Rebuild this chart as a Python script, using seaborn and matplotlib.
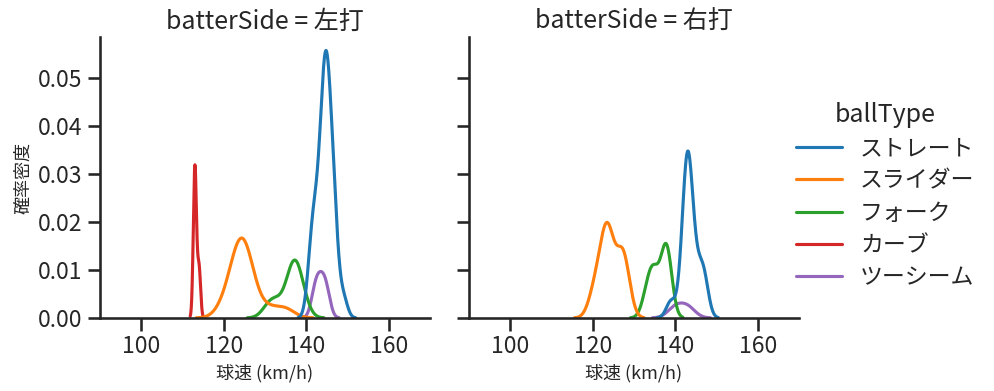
import matplotlib
matplotlib.use('Agg')
import matplotlib.pyplot as plt
import numpy as np
import pandas as pd
import seaborn as sns

ball_types = ['ストレート', 'スライダー', 'フォーク', 'カーブ', 'ツーシーム']
batter_sides = ['左打', '右打']

# 左打: 球速 (km/h) ごとの球数
left_straight_speed = [141, 142, 143, 144, 145, 146, 147, 149]
left_straight_count = [2, 3, 2, 6, 7, 4, 3, 1]
left_slider_speed = [120, 122, 123, 124, 125, 126, 127, 131, 135]
left_slider_count = [1, 1, 2, 3, 2, 2, 1, 1, 1]
left_fork_speed = [131, 133, 136, 137, 138, 139]
left_fork_count = [1, 1, 1, 3, 1, 1]
left_curve_speed = [113, 114]
left_curve_count = [3, 1]
left_twoseam_speed = [142, 143, 144, 145]
left_twoseam_count = [1, 1, 1, 1]

# 右打
right_straight_speed = [139, 142, 143, 144, 145, 146, 147]
right_straight_count = [1, 2, 7, 2, 1, 1, 2]
right_slider_speed = [120, 121, 122, 123, 124, 125, 127, 128]
right_slider_count = [1, 1, 1, 3, 3, 1, 3, 2]
right_fork_speed = [133, 134, 135, 137, 138]
right_fork_count = [1, 1, 2, 1, 4]
right_twoseam_speed = [140, 143]
right_twoseam_count = [1, 1]

groups = [
    ('左打', 'ストレート', left_straight_speed, left_straight_count),
    ('左打', 'スライダー', left_slider_speed, left_slider_count),
    ('左打', 'フォーク', left_fork_speed, left_fork_count),
    ('左打', 'カーブ', left_curve_speed, left_curve_count),
    ('左打', 'ツーシーム', left_twoseam_speed, left_twoseam_count),
    ('右打', 'ストレート', right_straight_speed, right_straight_count),
    ('右打', 'スライダー', right_slider_speed, right_slider_count),
    ('右打', 'フォーク', right_fork_speed, right_fork_count),
    ('右打', 'ツーシーム', right_twoseam_speed, right_twoseam_count),
]

frames = []
for side, ball, speed, count in groups:
    frames.append(pd.DataFrame({
        'speed': np.repeat(speed, count).astype(float),
        'batterSide': side,
        'ballType': ball,
    }))
df = pd.concat(frames, ignore_index=True)

sns.set_theme(context='talk', style='ticks')
plt.rcParams['font.family'] = ['Noto Sans CJK JP', 'DejaVu Sans']

g = sns.displot(data=df, x='speed', hue='ballType', col='batterSide', kind='kde',
                hue_order=ball_types, col_order=batter_sides, palette='tab10',
                height=4, aspect=1)
g.set(xlim=(90, 170))
g.set_axis_labels('球速 (km/h)', '確率密度', fontsize=13)

g.figure.set_size_inches(9.95, 3.91)
g.figure.subplots_adjust(left=0.1005, right=0.803, bottom=0.187, top=0.905, wspace=0.118)
sns.move_legend(g, 'center right', bbox_to_anchor=(1, 0.5), frameon=False,
                labelspacing=0.41, title='ballType')
g.figure.savefig('out.png', dpi=100)
